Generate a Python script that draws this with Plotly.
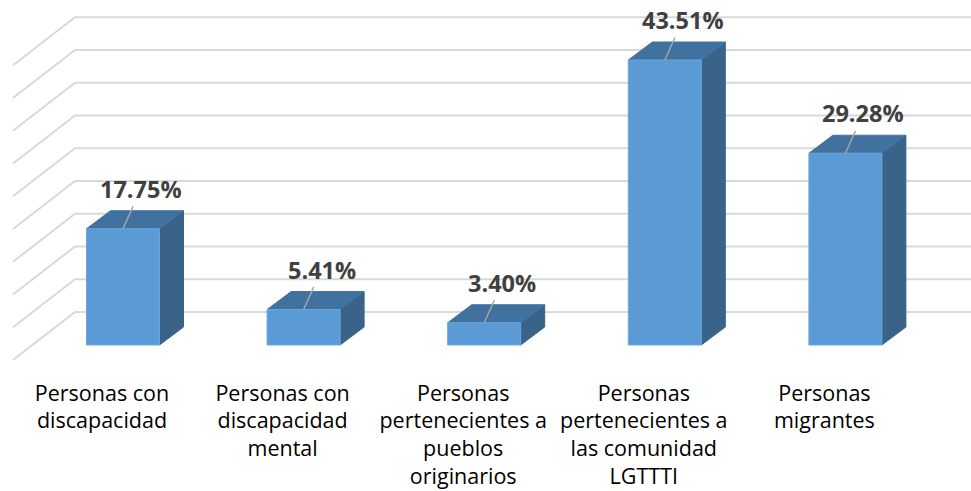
import plotly.graph_objects as go

# ---- data ----
categories = [
    "Personas con<br>discapacidad",
    "Personas con<br>discapacidad<br>mental",
    "Personas<br>pertenecientes a<br>pueblos<br>originarios",
    "Personas<br>pertenecientes a<br>las comunidad<br>LGTTTI",
    "Personas<br>migrantes",
]
values = [17.75, 5.41, 3.40, 43.51, 29.28]
grid_values = [0, 5, 10, 15, 20, 25, 30, 35, 40, 45]

# ---- styling / geometry (pixel calibration -> data units) ----
W, H = 971, 491
PLOT_H = 360
CAT_PX0, CAT_PX = 123.0, 180.6     # pixel of first category centre, pixels per category
VAL_PX0, VAL_PX = 345.0, 6.55      # pixel of value 0 (front plane), pixels per unit
x_range = [(0 - CAT_PX0) / CAT_PX, (W - CAT_PX0) / CAT_PX]
y_range = [(VAL_PX0 - PLOT_H) / VAL_PX, VAL_PX0 / VAL_PX]
bar_w = 73 / CAT_PX
depth_dx, depth_dy = 24 / CAT_PX, 18 / VAL_PX          # bar depth
wall_x = (75 - CAT_PX0) / CAT_PX                        # back wall left edge
wall_dy = (VAL_PX0 - 312) / VAL_PX                      # back wall offset
side_dx, side_dy = (13 - 75) / CAT_PX, -48 / VAL_PX     # side wall depth
label_shift = 21 / CAT_PX

FRONT, TOP, SIDE = "#5B9BD5", "#41729F", "#3A6389"
GRID = "#D9D9D9"

fig = go.Figure()

# gridlines: back wall + side wall
for g in grid_values:
    yb = g + wall_dy
    fig.add_trace(go.Scatter(
        x=[wall_x + side_dx, wall_x, x_range[1]],
        y=[yb + side_dy, yb, yb],
        mode="lines", line=dict(color=GRID, width=2),
        hoverinfo="skip", showlegend=False))

# 3D bars
for i, v in enumerate(values):
    l, r = i - bar_w / 2, i + bar_w / 2
    # side face
    fig.add_trace(go.Scatter(
        x=[r, r, r + depth_dx, r + depth_dx, r],
        y=[0, v, v + depth_dy, depth_dy, 0],
        fill="toself", fillcolor=SIDE, mode="lines",
        line=dict(color=SIDE, width=1), hoverinfo="skip", showlegend=False))
    # top face
    fig.add_trace(go.Scatter(
        x=[l, r, r + depth_dx, l + depth_dx, l],
        y=[v, v, v + depth_dy, v + depth_dy, v],
        fill="toself", fillcolor=TOP, mode="lines",
        line=dict(color=TOP, width=1), hoverinfo="skip", showlegend=False))
    # front face
    fig.add_trace(go.Scatter(
        x=[l, r, r, l, l],
        y=[0, 0, v, v, 0],
        fill="toself", fillcolor=FRONT, mode="lines",
        line=dict(color="#6AA6DC", width=1), hoverinfo="skip", showlegend=False))
    fig.add_annotation(
        x=i, y=v, xref="x", yref="y",
        text=f"<b>{v:.2f}%</b>",
        showarrow=True, arrowhead=0, arrowwidth=1.5, arrowcolor="#A6A6A6",
        ax=18, ay=-40, standoff=0,
        font=dict(family="Open Sans", size=23.5, color="#404040"))

fig.update_layout(
    width=W, height=H, autosize=False,
    margin=dict(l=0, r=0, t=0, b=H - PLOT_H),
    plot_bgcolor="white", paper_bgcolor="white",
    xaxis=dict(range=x_range, showgrid=False, zeroline=False, showline=False,
               tickmode="array",
               tickvals=[i - label_shift for i in range(len(categories))],
               ticktext=categories, ticks="", ticklabelstandoff=18,
               tickfont=dict(family="Open Sans", size=21.5, color="#000000"),
               fixedrange=True),
    yaxis=dict(range=y_range, visible=False, fixedrange=True),
    showlegend=False,
)

fig.write_html("out.html", config={"displayModeBar": False},
               post_script="document.body.style.margin='0';")
